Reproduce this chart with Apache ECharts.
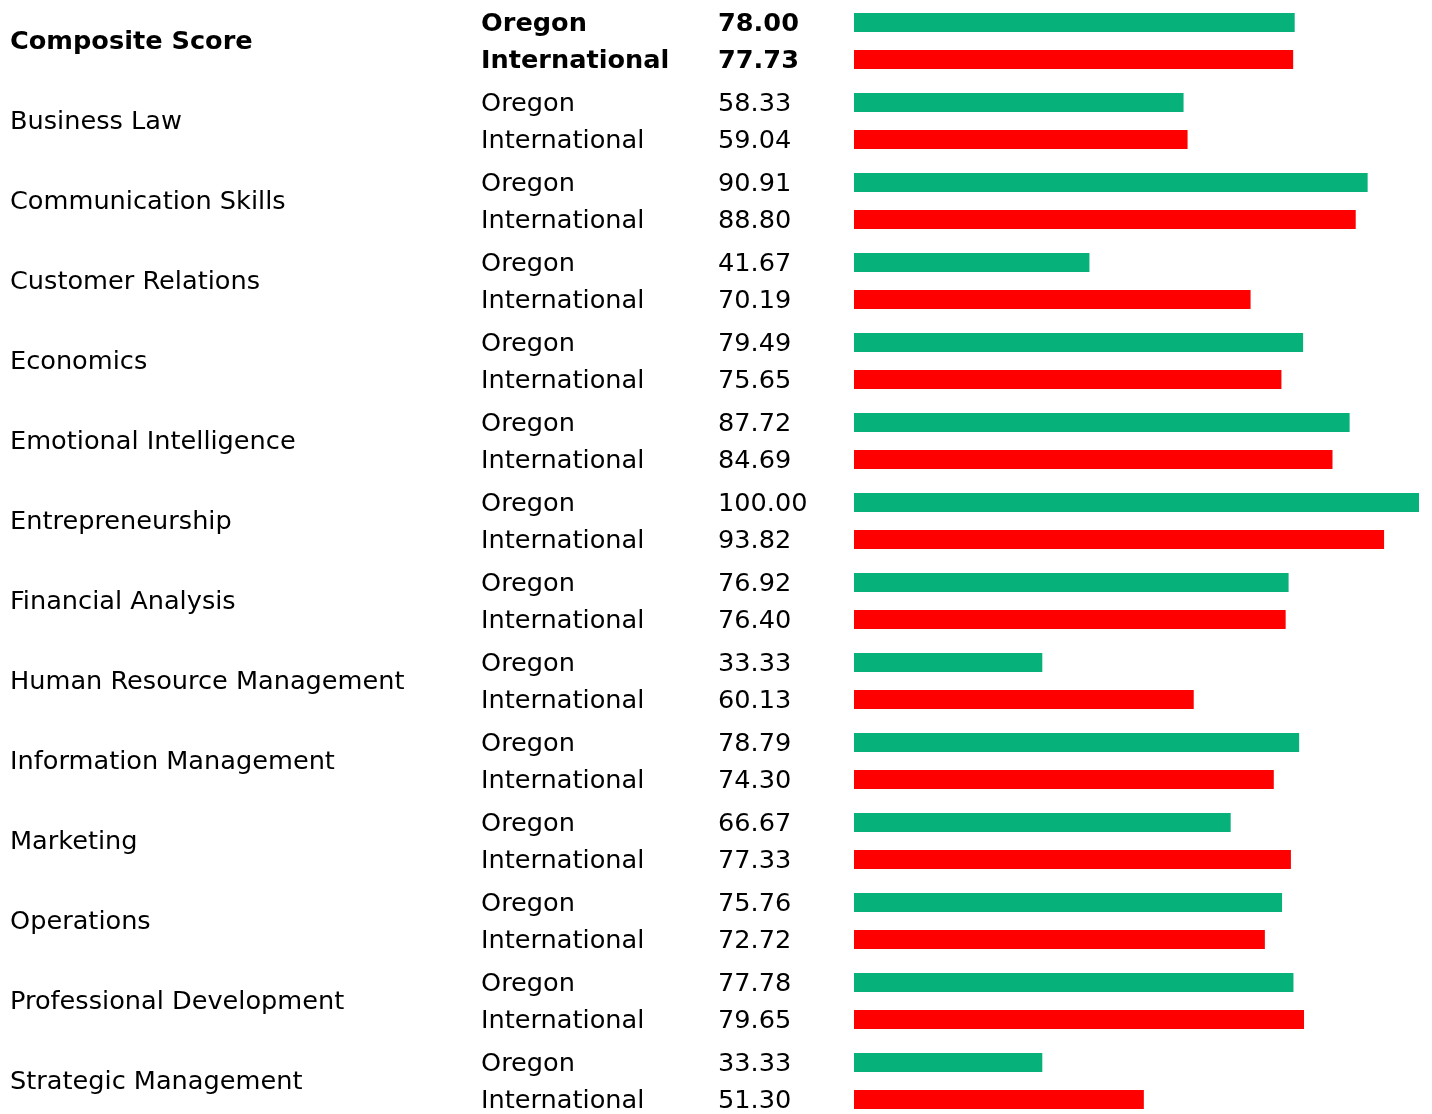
<!DOCTYPE html>
<html style="height: 100%">
    <head>
        <title>Scores</title>
        <meta charset="utf-8">
    </head>
    <body style="height: 100%; margin: 0; background: #fff">
        <div id="container" style="height: 100%"></div>

        <script type="text/javascript" src="https://cdn.jsdelivr.net/npm/echarts@6.0.0/dist/echarts.min.js"></script>
        <script type="text/javascript">
            var categories = ['Composite Score', 'Business Law', 'Communication Skills', 'Customer Relations',
                'Economics', 'Emotional Intelligence', 'Entrepreneurship', 'Financial Analysis',
                'Human Resource Management', 'Information Management', 'Marketing', 'Operations',
                'Professional Development', 'Strategic Management'];
            var oregon = [78.00, 58.33, 90.91, 41.67, 79.49, 87.72, 100.00, 76.92, 33.33, 78.79, 66.67, 75.76, 77.78, 33.33];
            var international = [77.73, 59.04, 88.80, 70.19, 75.65, 84.69, 93.82, 76.40, 60.13, 74.30, 77.33, 72.72, 79.65, 51.30];

            var dom = document.getElementById("container");
            var myChart = echarts.init(dom);
            var font = 'DejaVu Sans';
            var fs = 25.6;

            function barLabel(name) {
                return {
                    show: true,
                    position: [-373, '50%'],
                    offset: [0, 1.5],
                    align: 'left',
                    verticalAlign: 'middle',
                    formatter: function (p) {
                        var b = p.dataIndex === 0 ? 'b' : '';
                        return '{n' + b + '|' + name + '}{v' + b + '|' + p.value.toFixed(2) + '}';
                    },
                    rich: {
                        n: { width: 237, fontSize: fs, fontFamily: font, color: '#000' },
                        v: { fontSize: fs, fontFamily: font, color: '#000' },
                        nb: { width: 237, fontSize: fs, fontFamily: font, color: '#000', fontWeight: 'bold' },
                        vb: { fontSize: fs, fontFamily: font, color: '#000', fontWeight: 'bold' }
                    }
                };
            }

            var option = {
                animation: false,
                backgroundColor: '#fff',
                textStyle: { fontFamily: font },
                grid: { left: 854, width: 565, top: 1, height: 1120, containLabel: false, outerBoundsMode: 'none' },
                xAxis: {
                    type: 'value', min: 0, max: 100, show: false
                },
                yAxis: {
                    type: 'category',
                    inverse: true,
                    data: categories,
                    axisLine: { show: false },
                    axisTick: { show: false },
                    splitLine: { show: false },
                    axisLabel: {
                        align: 'left',
                        margin: 844,
                        padding: [3, 0, 0, 0],
                        formatter: function (v, i) {
                            return i === 0 ? '{b|' + v + '}' : '{r|' + v + '}';
                        },
                        rich: {
                            b: { fontSize: fs, fontFamily: font, color: '#000', fontWeight: 'bold' },
                            r: { fontSize: fs, fontFamily: font, color: '#000' }
                        }
                    }
                },
                series: [
                    {
                        name: 'Oregon',
                        type: 'bar',
                        data: oregon,
                        barWidth: 19,
                        barGap: '95%',
                        itemStyle: { color: '#07b27a' },
                        label: barLabel('Oregon')
                    },
                    {
                        name: 'International',
                        type: 'bar',
                        data: international,
                        barWidth: 19,
                        itemStyle: { color: '#ff0000' },
                        label: barLabel('International')
                    }
                ]
            };

            myChart.setOption(option);
            window.onresize = function () {
                myChart.resize();
            };
        </script>
    </body>
</html>
